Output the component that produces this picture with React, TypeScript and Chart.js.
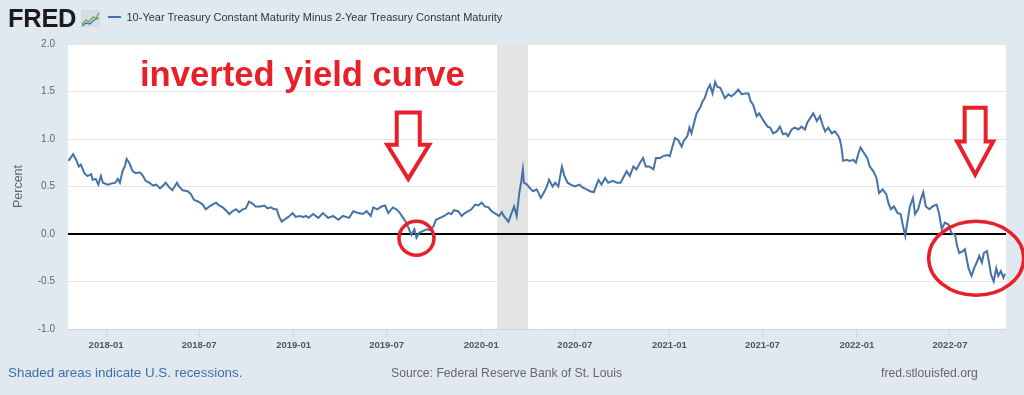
import React, { useEffect, useRef } from "react";
import { Chart, registerables } from "chart.js";

Chart.register(...registerables);

const FONT = "'Liberation Sans', Arial, Helvetica, sans-serif";

// ---- Data: 10-Year minus 2-Year Treasury spread (percent) ----
const dates2017 = ["10-20","10-29","11-04","11-09","11-13","11-20","11-26","12-03","12-06","12-12",
  "12-17","12-22","12-26"];
const values2017 = [0.77,0.84,0.78,0.71,0.73,0.64,0.61,0.63,0.57,0.58,
  0.52,0.61,0.54];

const dates2018 = ["01-04","01-11","01-19","01-24","01-28","02-02","02-07","02-10","02-15","02-22",
  "02-28","03-08","03-14","03-19","03-26","04-03","04-09","04-16","04-24","04-27",
  "05-04","05-10","05-19","05-23","05-30","06-09","06-15","06-21","06-30","07-08",
  "07-14","07-21","07-27","08-03","08-09","08-16","08-22","08-29","09-04","09-11",
  "09-17","09-24","09-30","10-06","10-13","10-19","10-29","11-05","11-11","11-18",
  "11-24","11-29","12-04","12-09","12-16","12-22","12-30"];
const values2018 = [0.52,0.53,0.54,0.58,0.54,0.66,0.72,0.79,0.75,0.66,
  0.64,0.65,0.61,0.56,0.54,0.51,0.52,0.48,0.52,0.54,
  0.49,0.46,0.54,0.50,0.46,0.45,0.42,0.36,0.34,0.31,
  0.26,0.29,0.31,0.33,0.30,0.28,0.25,0.21,0.24,0.26,
  0.23,0.26,0.27,0.34,0.32,0.29,0.29,0.30,0.27,0.28,
  0.26,0.26,0.18,0.13,0.16,0.18,0.22];

const dates2019 = ["01-05","01-12","01-20","01-25","01-30","02-08","02-18","02-27","03-09","03-19",
  "03-29","04-07","04-19","04-27","05-07","05-16","05-23","05-31","06-05","06-13",
  "06-21","06-28","07-04","07-13","07-20","07-27","08-02","08-07","08-12","08-18",
  "08-24","08-28","09-02","09-09","09-17","09-23","09-30","10-05","10-13","10-21",
  "10-29","11-04","11-09","11-17","11-24","11-30","12-07","12-13","12-20","12-26"];
const values2019 = [0.18,0.19,0.18,0.19,0.17,0.21,0.17,0.22,0.17,0.19,
  0.15,0.19,0.17,0.24,0.22,0.21,0.24,0.19,0.28,0.26,
  0.29,0.30,0.22,0.28,0.26,0.22,0.17,0.13,0.07,-0.01,
  0.05,-0.04,0.01,0.03,0.05,0.04,0.08,0.15,0.17,0.19,
  0.22,0.21,0.25,0.24,0.19,0.22,0.24,0.26,0.31,0.30];

const dates2020 = ["01-02","01-08","01-15","01-21","01-30","02-05","02-10","02-14","02-23","02-29",
  "03-05","03-10","03-15","03-19","03-22","03-24","03-30","04-05","04-11","04-18",
  "04-26","05-01","05-07","05-12","05-19","05-24","05-30","06-06","06-11","06-17",
  "06-23","07-01","07-10","07-16","07-24","07-31","08-07","08-16","08-22","08-29",
  "09-04","09-13","09-21","09-28","10-05","10-10","10-16","10-23","10-29","11-05",
  "11-11","11-16","11-23","12-01","12-06","12-14","12-20","12-28"];
const values2020 = [0.33,0.29,0.28,0.24,0.21,0.19,0.23,0.19,0.13,0.22,
  0.29,0.19,0.43,0.56,0.68,0.54,0.52,0.48,0.45,0.47,
  0.38,0.43,0.49,0.57,0.50,0.54,0.50,0.71,0.61,0.54,
  0.52,0.50,0.52,0.49,0.47,0.45,0.44,0.57,0.52,0.59,
  0.54,0.56,0.54,0.54,0.61,0.66,0.61,0.71,0.68,0.75,
  0.80,0.71,0.71,0.68,0.80,0.80,0.82,0.83];

const dates2021 = ["01-02","01-07","01-12","01-18","01-25","01-29","02-05","02-09","02-13","02-19",
  "02-23","03-02","03-07","03-11","03-16","03-21","03-26","03-31","04-04","04-10",
  "04-15","04-19","04-26","05-02","05-09","05-15","05-22","05-28","06-04","06-08",
  "06-13","06-20","06-25","06-30","07-06","07-11","07-16","07-22","07-29","08-04",
  "08-10","08-16","08-20","08-27","09-02","09-09","09-15","09-22","09-26","10-02",
  "10-08","10-15","10-21","10-26","10-31","11-06","11-13","11-19","11-26","11-29",
  "12-02","12-05","12-12","12-18","12-25","12-30"];
const values2021 = [0.82,0.92,1.01,0.99,0.92,0.98,1.03,1.12,1.06,1.19,
  1.27,1.33,1.40,1.43,1.52,1.57,1.48,1.60,1.55,1.54,
  1.48,1.43,1.47,1.45,1.48,1.52,1.47,1.48,1.48,1.40,
  1.36,1.24,1.27,1.22,1.17,1.13,1.12,1.06,1.08,1.13,
  1.05,1.06,1.03,1.10,1.12,1.10,1.13,1.10,1.17,1.22,
  1.27,1.19,1.24,1.15,1.08,1.12,1.06,1.08,1.03,0.99,
  0.91,0.77,0.78,0.77,0.78,0.75];

const dates2022 = ["01-04","01-08","01-15","01-21","01-26","02-02","02-08","02-13","02-20","02-27",
  "03-03","03-08","03-14","03-21","03-27","03-31","04-05","04-09","04-14","04-20",
  "04-24","04-30","05-05","05-10","05-15","05-22","05-28","06-05","06-10","06-15",
  "06-21","06-28","07-04","07-11","07-15","07-19","07-26","07-30","08-06","08-12",
  "08-17","08-22","08-27","09-01","09-05","09-11","09-14","09-19","09-24","09-29",
  "10-03","10-08","10-13","10-16"];
const values2022 = [0.85,0.91,0.85,0.80,0.71,0.66,0.59,0.43,0.47,0.42,
  0.33,0.26,0.29,0.22,0.21,0.10,-0.02,0.12,0.29,0.38,
  0.21,0.26,0.36,0.44,0.29,0.26,0.29,0.31,0.21,0.05,
  0.12,0.10,0.01,-0.01,-0.13,-0.20,-0.18,-0.16,-0.36,-0.44,
  -0.36,-0.30,-0.23,-0.30,-0.20,-0.18,-0.27,-0.43,-0.50,-0.36,
  -0.44,-0.39,-0.46,-0.42];

const xTickLabels = ["2018-01","2018-07","2019-01","2019-07","2020-01","2020-07","2021-01","2021-07","2022-01","2022-07"];
const yTickValues = [-1.0, -0.5, 0.0, 0.5, 1.0, 1.5, 2.0];
const axisStart = "2017-10-19";
const axisEnd = "2022-10-18";
const recessionStart = "2020-02-01";
const recessionEnd = "2020-04-01";

const seriesTitle = "10-Year Treasury Constant Maturity Minus 2-Year Treasury Constant Maturity";
const annotationText = "inverted yield curve";

// annotations anchored in data coordinates (date, percent)
const arrowMarks = [
  { date: "2019-08-12", top: 1.28, head: 0.94, tip: 0.58, shaft: 11.5, wing: 21 },
  { date: "2022-08-19", top: 1.33, head: 0.975, tip: 0.625, shaft: 10.5, wing: 18 },
];
const ellipseMarks = [
  { date: "2019-08-28", value: -0.045, rx: 17.5, ry: 17 },
  { date: "2022-08-21", value: -0.255, rx: 47.5, ry: 37 },
];

const DAY = 86400000;
function dayOf(iso: string): number {
  const [y, m, d] = iso.split("-").map(Number);
  return Date.UTC(y, m - 1, d || 1) / DAY;
}

const yearBlocks: [number, string[], number[]][] = [
  [2017, dates2017, values2017],
  [2018, dates2018, values2018],
  [2019, dates2019, values2019],
  [2020, dates2020, values2020],
  [2021, dates2021, values2021],
  [2022, dates2022, values2022],
];

const RED = "#e8202a";

const decorPlugin = {
  id: "fredDecor",
  beforeDraw(chart: any) {
    const { ctx, chartArea, scales } = chart;
    ctx.save();
    ctx.fillStyle = "#ffffff";
    ctx.fillRect(chartArea.left, chartArea.top, chartArea.right - chartArea.left, chartArea.bottom - chartArea.top);
    const x0 = scales.x.getPixelForValue(dayOf(recessionStart));
    const x1 = scales.x.getPixelForValue(dayOf(recessionEnd));
    ctx.fillStyle = "#e3e3e3";
    ctx.fillRect(x0, chartArea.top, x1 - x0, chartArea.bottom - chartArea.top);
    ctx.restore();
  },
  afterDraw(chart: any) {
    const { ctx, scales } = chart;
    ctx.save();
    ctx.strokeStyle = RED;
    ctx.lineWidth = 4;
    ctx.lineJoin = "miter";
    for (const a of arrowMarks) {
      const cx = scales.x.getPixelForValue(dayOf(a.date));
      const yt = scales.y.getPixelForValue(a.top);
      const yh = scales.y.getPixelForValue(a.head);
      const yp = scales.y.getPixelForValue(a.tip);
      ctx.beginPath();
      ctx.moveTo(cx - a.shaft, yt);
      ctx.lineTo(cx + a.shaft, yt);
      ctx.lineTo(cx + a.shaft, yh);
      ctx.lineTo(cx + a.wing, yh);
      ctx.lineTo(cx, yp);
      ctx.lineTo(cx - a.wing, yh);
      ctx.lineTo(cx - a.shaft, yh);
      ctx.closePath();
      ctx.stroke();
    }
    ctx.lineWidth = 3.5;
    for (const e of ellipseMarks) {
      const cx = scales.x.getPixelForValue(dayOf(e.date));
      const cy = scales.y.getPixelForValue(e.value);
      ctx.beginPath();
      ctx.ellipse(cx, cy, e.rx, e.ry, 0, 0, Math.PI * 2);
      ctx.stroke();
    }
    ctx.restore();
  },
};

export default function App() {
  const ref = useRef<HTMLCanvasElement>(null);

  useEffect(() => {
    const points: { x: number; y: number }[] = [];
    for (const [year, ds, vs] of yearBlocks) {
      ds.forEach((d, i) => points.push({ x: dayOf(`${year}-${d}`), y: vs[i] }));
    }
    const tickDays = xTickLabels.map((l) => dayOf(l));
    const labelByDay = new Map<number, string>();
    tickDays.forEach((d, i) => labelByDay.set(d, xTickLabels[i]));

    Chart.defaults.font.family = FONT;

    const chart = new Chart(ref.current as HTMLCanvasElement, {
      type: "line",
      data: {
        datasets: [
          {
            label: seriesTitle,
            data: points,
            borderColor: "#4572a7",
            borderWidth: 2,
            pointRadius: 0,
            fill: false,
            tension: 0,
          },
        ],
      },
      options: {
        responsive: false,
        animation: false,
        devicePixelRatio: 1,
        layout: { padding: { top: 44, right: 18, left: 0, bottom: 0 } },
        plugins: {
          legend: { display: false },
          tooltip: { enabled: false },
        },
        scales: {
          x: {
            type: "linear",
            min: dayOf(axisStart),
            max: dayOf(axisEnd),
            afterBuildTicks: (s: any) => {
              s.ticks = tickDays.map((v) => ({ value: v }));
            },
            afterFit: (s: any) => {
              s.height = 66;
            },
            ticks: {
              autoSkip: false,
              maxRotation: 0,
              minRotation: 0,
              padding: 3,
              color: "#555",
              font: { family: FONT, size: 9.5, weight: "bold" },
              callback: (v: any) => labelByDay.get(Number(v)) ?? "",
            },
            grid: { drawOnChartArea: false, drawTicks: true, tickLength: 8, color: "#ccd6eb" },
            border: { display: true, color: "#ccd6eb" },
          },
          y: {
            min: -1,
            max: 2,
            afterBuildTicks: (s: any) => {
              s.ticks = yTickValues.map((v) => ({ value: v }));
            },
            afterFit: (s: any) => {
              s.width = 68;
            },
            ticks: {
              padding: 13,
              color: "#666",
              font: { family: FONT, size: 10 },
              callback: (v: any) => Number(v).toFixed(1),
            },
            grid: {
              drawTicks: false,
              color: (c: any) => (c.tick && c.tick.value === 0 ? "#000000" : "#e6e6e6"),
              lineWidth: (c: any) => (c.tick && c.tick.value === 0 ? 2 : 1),
            },
            border: { display: false },
            title: {
              display: true,
              text: "Percent",
              color: "#666",
              font: { family: FONT, size: 12.5 },
              padding: { top: 11, bottom: 0 },
            },
          },
        },
      },
      plugins: [decorPlugin],
    } as any);
    return () => chart.destroy();
  }, []);

  return (
    <div
      style={{
        position: "fixed",
        left: 0,
        top: 0,
        width: 1024,
        height: 395,
        background: "#e1e9f0",
        overflow: "hidden",
        fontFamily: FONT,
      }}
    >
      <canvas ref={ref} width={1024} height={395} style={{ position: "absolute", left: 0, top: 0, width: 1024, height: 395 }} />
      <div
        style={{
          position: "absolute",
          left: 8,
          top: 6,
          fontSize: 25.5,
          lineHeight: "25px",
          fontWeight: "bold",
          color: "#1d1a1b",
          letterSpacing: -0.3,
        }}
      >
        FRED
      </div>
      <svg width={19} height={17} style={{ position: "absolute", left: 81, top: 10 }}>
        <rect x={0} y={0} width={19} height={17} fill="#d5dde4" />
        <polyline points="1,14 5,10 8,12 12,7 15,8 18,3" fill="none" stroke="#6aaa3a" strokeWidth={1.3} />
        <polyline points="1,16 5,13 9,14 13,10 18,8" fill="none" stroke="#4572a7" strokeWidth={1.3} />
      </svg>
      <div style={{ position: "absolute", left: 108, top: 16, width: 13, height: 2, background: "#4572a7" }} />
      <div
        style={{
          position: "absolute",
          left: 126.5,
          top: 9,
          fontSize: 11,
          lineHeight: "16px",
          color: "#333",
          whiteSpace: "nowrap",
        }}
      >
        {seriesTitle}
      </div>
      <div
        style={{
          position: "absolute",
          left: 140,
          top: 57,
          fontSize: 34.6,
          lineHeight: "34px",
          fontWeight: "bold",
          color: RED,
          whiteSpace: "nowrap",
        }}
      >
        {annotationText}
      </div>
      <div
        style={{
          position: "absolute",
          left: 8,
          top: 365,
          fontSize: 13.4,
          lineHeight: "16px",
          color: "#3f6ea9",
          whiteSpace: "nowrap",
        }}
      >
        Shaded areas indicate U.S. recessions.
      </div>
      <div
        style={{
          position: "absolute",
          left: 391,
          top: 365,
          fontSize: 12.2,
          lineHeight: "16px",
          color: "#666",
          whiteSpace: "nowrap",
        }}
      >
        Source: Federal Reserve Bank of St. Louis
      </div>
      <div
        style={{
          position: "absolute",
          left: 881,
          top: 365,
          fontSize: 12.2,
          lineHeight: "16px",
          color: "#666",
          whiteSpace: "nowrap",
        }}
      >
        fred.stlouisfed.org
      </div>
    </div>
  );
}
